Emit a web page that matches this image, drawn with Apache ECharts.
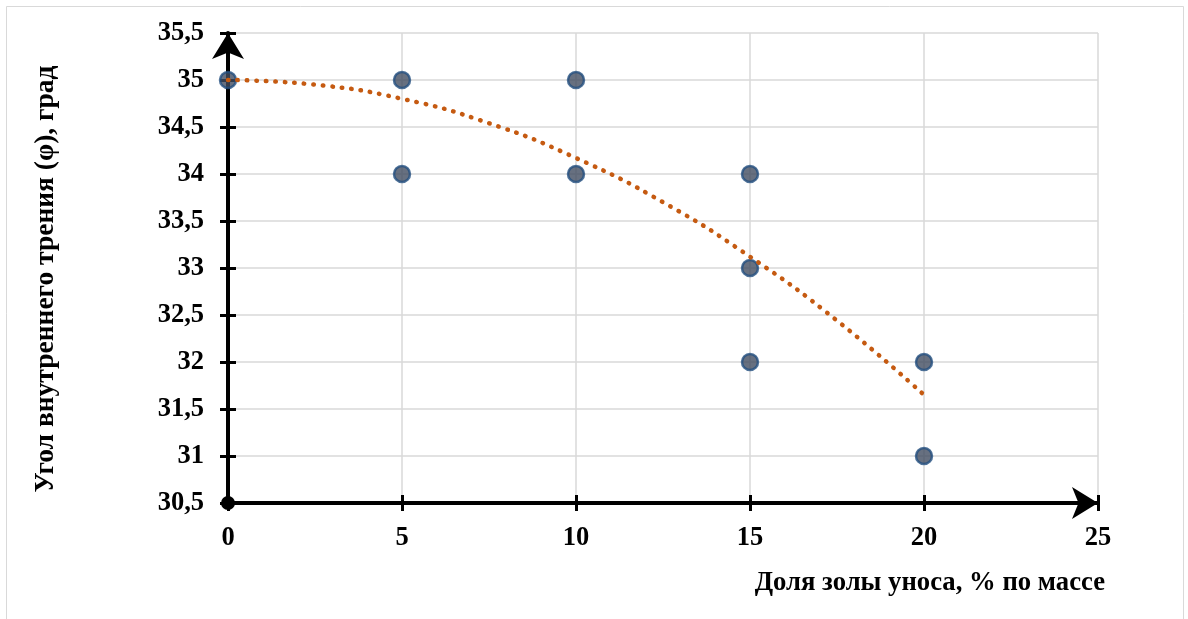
<!DOCTYPE html>
<html>
<head>
<meta charset="utf-8">
<script src="https://cdn.jsdelivr.net/npm/echarts@6/dist/echarts.min.js"></script>
<style>
html,body{margin:0;padding:0;background:#fff;}
#c{width:1188px;height:619px;}
</style>
</head>
<body>
<div id="c"></div>
<script>
// Measured points: x = fly ash share (% by mass), y = internal friction angle (deg)
var pointsX = [0, 5, 5, 10, 10, 15, 15, 15, 20, 20];
var pointsY = [35, 35, 34, 35, 34, 34, 33, 32, 32, 31];
// Polynomial trend line
var trendX = [0, 2.5, 5, 7.5, 10, 12.5, 15, 17.5, 20];
var trendY = [35.0, 34.95, 34.80, 34.54, 34.17, 33.70, 33.12, 32.44, 31.65];
var xTitle = 'Доля золы уноса, % по массе';
var yTitle = 'Угол внутреннего трения (φ), град';

var FONT = '"Liberation Serif", "Times New Roman", serif';
var chart = echarts.init(document.getElementById('c'), null, {renderer: 'canvas'});

function fmtY(v) { return String(v).replace('.', ','); }

var scatterData = pointsX.map(function (x, i) { return [x, pointsY[i]]; });
var trendData = trendX.map(function (x, i) { return [x, trendY[i]]; });

var axisLabelStyle = {fontFamily: FONT, fontWeight: 'bold', fontSize: 26.5, color: '#000'};

chart.setOption({
  backgroundColor: '#fff',
  animation: false,
  grid: {left: 228, right: 90, top: 33, bottom: 116, containLabel: false},
  graphic: [
    {type: 'rect', shape: {x: 6.5, y: 6.5, width: 1177, height: 640}, style: {fill: 'none', stroke: '#d9d9d9', lineWidth: 1}, z: -10},
    {type: 'text', x: 1105, y: 583, style: {text: xTitle, font: 'bold 26.7px ' + FONT, fill: '#000', textAlign: 'right', textVerticalAlign: 'middle'}},
    {type: 'text', x: 46, y: 279, rotation: Math.PI / 2, style: {text: yTitle, font: 'bold 27.5px ' + FONT, fill: '#000', textAlign: 'center', textVerticalAlign: 'middle'}}
  ],
  xAxis: [
    {
      type: 'value', min: 0, max: 25, interval: 5, position: 'bottom',
      axisLine: {show: true, onZero: false, lineStyle: {color: '#000', width: 4}, symbol: ['none', 'arrow'], symbolSize: [24, 26]},
      axisTick: {show: true, inside: false, length: 8, lineStyle: {color: '#000', width: 3}},
      axisLabel: Object.assign({margin: 22}, axisLabelStyle),
      splitLine: {show: true, lineStyle: {color: '#d9d9d9', width: 1.5}}
    },
    {
      type: 'value', min: 0, max: 25, interval: 5, position: 'bottom', offset: 0,
      axisLine: {show: true, onZero: false, lineStyle: {color: '#000', width: 4}, symbol: ['circle', 'none'], symbolSize: [14, 14]},
      axisTick: {show: true, inside: true, length: 8, lineStyle: {color: '#000', width: 3}},
      axisLabel: {show: false},
      splitLine: {show: false}
    }
  ],
  yAxis: [
    {
      type: 'value', min: 30.5, max: 35.5, interval: 0.5, position: 'left',
      axisLine: {show: true, onZero: false, lineStyle: {color: '#000', width: 4}, symbol: ['none', 'arrow'], symbolSize: [24, 26]},
      axisTick: {show: true, inside: false, length: 8, lineStyle: {color: '#000', width: 3}},
      axisLabel: Object.assign({margin: 24, formatter: fmtY, padding: [6, 0, 0, 0]}, axisLabelStyle),
      splitLine: {show: true, lineStyle: {color: '#d9d9d9', width: 1.5}}
    },
    {
      type: 'value', min: 30.5, max: 35.5, interval: 0.5, position: 'left', offset: 0,
      axisLine: {show: false},
      axisTick: {show: true, inside: true, length: 8, lineStyle: {color: '#000', width: 3}},
      axisLabel: {show: false},
      splitLine: {show: false}
    }
  ],
  series: [
    {
      type: 'scatter', xAxisIndex: 0, yAxisIndex: 0, data: scatterData,
      symbol: 'circle', symbolSize: 16,
      itemStyle: {color: '#414c60', borderColor: '#234f7f', borderWidth: 2.5},
      z: 3
    },
    {
      type: 'line', xAxisIndex: 0, yAxisIndex: 0, data: trendData, smooth: true,
      showSymbol: false, symbol: 'none',
      lineStyle: {color: '#c55a11', width: 4.5, type: [0.5, 9], cap: 'round'},
      z: 4
    }
  ]
});
</script>
</body>
</html>
